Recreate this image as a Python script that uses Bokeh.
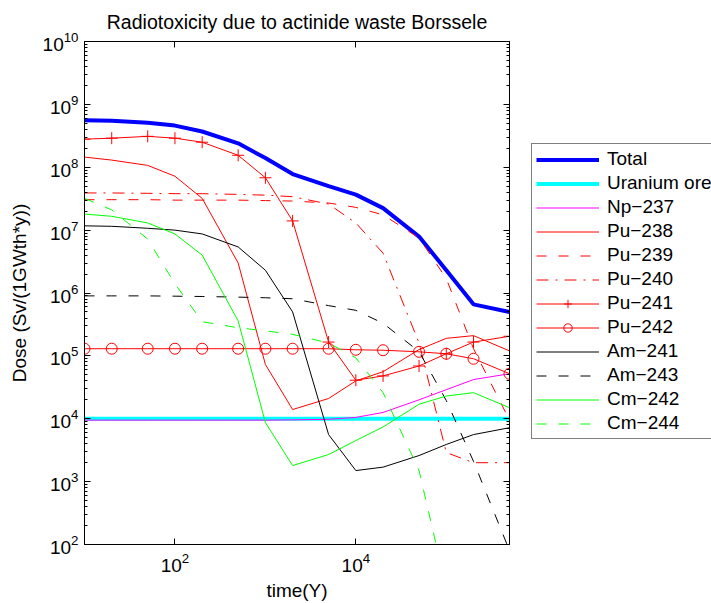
from bokeh.plotting import figure
from bokeh.layouts import row
from bokeh.models import Range1d, FixedTicker, LogAxis, Legend, LegendItem
from bokeh.embed import file_html
from bokeh.resources import INLINE

# ---- data ----
time_y = [10, 20, 50, 100, 200, 500, 1000, 2000, 5000, 1e4, 2e4, 5e4, 1e5, 2e5, 5e5]

total = [5.6e8, 5.5e8, 5.1e8, 4.6e8, 3.7e8, 2.4e8, 1.4e8, 7.8e7, 5.0e7, 3.67e7, 2.24e7, 7.9e6, 2.3e6, 6.6e5, 5.0e5]
uranium_ore = [1e4, 1e4, 1e4, 1e4, 1e4, 1e4, 1e4, 1e4, 1e4, 1e4, 1e4, 1e4, 1e4, 1e4, 1e4]
np237 = [9.5e3, 9.5e3, 9.5e3, 9.5e3, 9.5e3, 9.5e3, 9.5e3, 9.6e3, 9.8e3, 1.05e4, 1.26e4, 2.0e4, 2.9e4, 4.2e4, 5.2e4]
pu238 = [1.45e8, 1.3e8, 1.07e8, 7.2e7, 3.2e7, 3.0e6, 7.3e4, 1.4e4, 2.1e4, 4.0e4, 5.6e4, 1.26e5, 1.9e5, 2.1e5, 1.2e5]
pu239 = [3.05e7, 3.05e7, 3.05e7, 3.0e7, 3.0e7, 3.0e7, 2.95e7, 2.9e7, 2.7e7, 2.3e7, 1.75e7, 7.5e6, 1.7e6, 1.3e5, 9.5e3]
pu240 = [3.9e7, 3.9e7, 3.85e7, 3.8e7, 3.8e7, 3.7e7, 3.6e7, 3.4e7, 2.6e7, 1.3e7, 4.3e6, 1.6e5, 2.9e3, 2.0e3, 2.0e3]
pu241 = [2.8e8, 2.9e8, 3.1e8, 2.9e8, 2.5e8, 1.55e8, 6.8e7, 1.4e7, 1.66e5, 4.1e4, 4.8e4, 6.9e4, 1.08e5, 1.66e5, 2.05e5]
pu242 = [1.3e5, 1.3e5, 1.3e5, 1.3e5, 1.3e5, 1.3e5, 1.3e5, 1.3e5, 1.3e5, 1.25e5, 1.23e5, 1.16e5, 1.08e5, 9.0e4, 5.2e4]
am241 = [1.17e7, 1.15e7, 1.07e7, 1.0e7, 8.7e6, 5.4e6, 2.3e6, 5.0e5, 5.6e3, 1.5e3, 1.7e3, 2.6e3, 3.9e3, 5.6e3, 7.2e3]
am243 = [9.0e5, 9.0e5, 9.0e5, 8.9e5, 8.8e5, 8.6e5, 8.4e5, 8.1e5, 6.3e5, 5.3e5, 3.3e5, 1.17e5, 1.95e4, 2.1e3, 8.0e1]
cm242 = [1.8e7, 1.66e7, 1.3e7, 8.7e6, 4.0e6, 3.6e5, 8.7e3, 1.8e3, 2.7e3, 4.5e3, 7.4e3, 1.7e4, 2.3e4, 2.6e4, 1.5e4]
cm244 = [3.2e7, 2.1e7, 7.2e6, 1.4e6, 3.5e5, 2.8e5, 2.5e5, 2.2e5, 1.6e5, 9.3e4, 2.6e4, 1.5e3, 2.0e1, 2.0e0, 1.0e-1]

y_major = [1e2, 1e3, 1e4, 1e5, 1e6, 1e7, 1e8, 1e9, 1e10]
x_major = [1e2, 1e4]

FONT = "Liberation Sans"
FS = "19px"

p = figure(width=527, height=603, x_axis_type="log", y_axis_type="log",
           x_range=Range1d(10, 5e5), y_range=Range1d(1e2, 1e10),
           output_backend="svg", toolbar_location=None,
           min_border_left=84, min_border_right=18, min_border_top=40, min_border_bottom=59,
           title="Radiotoxicity due to actinide waste Borssele")
p.background_fill_color = "white"
p.border_fill_color = "white"
p.xgrid.visible = False
p.ygrid.visible = False
p.outline_line_color = "black"
p.outline_line_width = 1

p.title.text_font = FONT
p.title.text_font_size = "19.5px"
p.title.text_font_style = "normal"
p.title.text_color = "black"
p.title.align = "center"
p.title.standoff = 17

y_minor = [m * 10 ** k for k in range(2, 10) for m in range(2, 10)]


def style(ax, ticker, labels=True):
    ax.ticker = ticker
    ax.major_tick_in = 6
    ax.major_tick_out = 0
    ax.minor_tick_in = 3
    ax.minor_tick_out = 0
    ax.axis_line_color = "black"
    ax.major_tick_line_color = "black"
    ax.minor_tick_line_color = "black"
    ax.major_label_text_font = FONT
    ax.major_label_text_color = "black"
    if labels:
        ax.major_label_text_font_size = FS
    else:
        ax.major_label_text_font_size = "2px"
        ax.major_label_text_alpha = 0.0
        ax.major_label_standoff = 0
    ax.axis_label_text_font = FONT
    ax.axis_label_text_font_size = FS
    ax.axis_label_text_font_style = "normal"
    ax.axis_label_text_color = "black"


style(p.xaxis[0], FixedTicker(ticks=x_major, minor_ticks=[]))
style(p.yaxis[0], FixedTicker(ticks=y_major, minor_ticks=y_minor))
p.xaxis[0].axis_label = "time(Y)"
p.yaxis[0].axis_label = "Dose (Sv/(1GWth*y))"
p.xaxis[0].major_label_standoff = 8
p.yaxis[0].major_label_standoff = 6
p.xaxis[0].axis_label_standoff = 5
p.yaxis[0].axis_label_standoff = 10

top_ax = LogAxis()
style(top_ax, FixedTicker(ticks=x_major, minor_ticks=[]), labels=False)
p.add_layout(top_ax, "above")
right_ax = LogAxis()
style(right_ax, FixedTicker(ticks=y_major, minor_ticks=y_minor), labels=False)
p.add_layout(right_ax, "right")

RED = "#ff0000"
series = [
    ("Total", total, "#0000ff", 4, "solid", None),
    ("Uranium ore", uranium_ore, "#00ffff", 4, "solid", None),
    ("Np\u2212237", np237, "#ff00ff", 1, "solid", None),
    ("Pu\u2212238", pu238, RED, 1, "solid", None),
    ("Pu\u2212239", pu239, RED, 1, "10 12", None),
    ("Pu\u2212240", pu240, RED, 1, "12 7 2 7", None),
    ("Pu\u2212241", pu241, RED, 1, "solid", "cross"),
    ("Pu\u2212242", pu242, RED, 1, "solid", "circle"),
    ("Am\u2212241", am241, "#000000", 1, "solid", None),
    ("Am\u2212243", am243, "#000000", 1, "10 12", None),
    ("Cm\u2212242", cm242, "#00ff00", 1, "solid", None),
    ("Cm\u2212244", cm244, "#00ff00", 1, "10 12", None),
]

# legend panel: a second, axis-less figure to the right of the plot; its
# ranges lie away from the data, so its copies of the series stay out of view
lg = figure(width=184, height=603, x_range=Range1d(-2, -1), y_range=Range1d(-2, -1),
            output_backend="svg", toolbar_location=None,
            x_axis_location=None, y_axis_location=None,
            min_border_left=0, min_border_right=0, min_border_top=40, min_border_bottom=59)
lg.xgrid.visible = False
lg.ygrid.visible = False
lg.outline_line_color = None
lg.background_fill_color = "white"
lg.border_fill_color = "white"

items = []
for label, vals, color, lw, dash, marker in series:
    p.line(time_y, vals, line_color=color, line_width=lw, line_dash=dash)
    r = lg.line(time_y, vals, line_color=color, line_width=lw, line_dash=dash)
    rs = [r]
    if marker == "cross":
        p.scatter(time_y, vals, marker="cross", size=12, line_color=color,
                  line_width=1, fill_color=None)
        rs.append(lg.scatter(time_y, vals, marker="cross", size=12, line_color=color,
                             line_width=1, fill_color=None))
    elif marker == "circle":
        p.scatter(time_y, vals, marker="circle", size=11, line_color=color,
                  line_width=1, fill_color=None)
        rs.append(lg.scatter(time_y, vals, marker="circle", size=11, line_color=color,
                             line_width=1, fill_color=None))
    items.append(LegendItem(label=label, renderers=rs))

legend = Legend(items=items, location=(4, 105))
legend.label_text_font = FONT
legend.label_text_font_size = FS
legend.label_text_color = "black"
legend.label_height = 21
legend.glyph_height = 21
legend.glyph_width = 63
legend.spacing = 2
legend.padding = 4
legend.margin = 0
legend.label_standoff = 8
legend.border_line_color = "black"
legend.border_line_width = 1
legend.background_fill_color = "white"
legend.background_fill_alpha = 1.0
lg.add_layout(legend)

layout = row(p, lg, spacing=0)
open("out.html", "w").write(file_html(layout, INLINE))
